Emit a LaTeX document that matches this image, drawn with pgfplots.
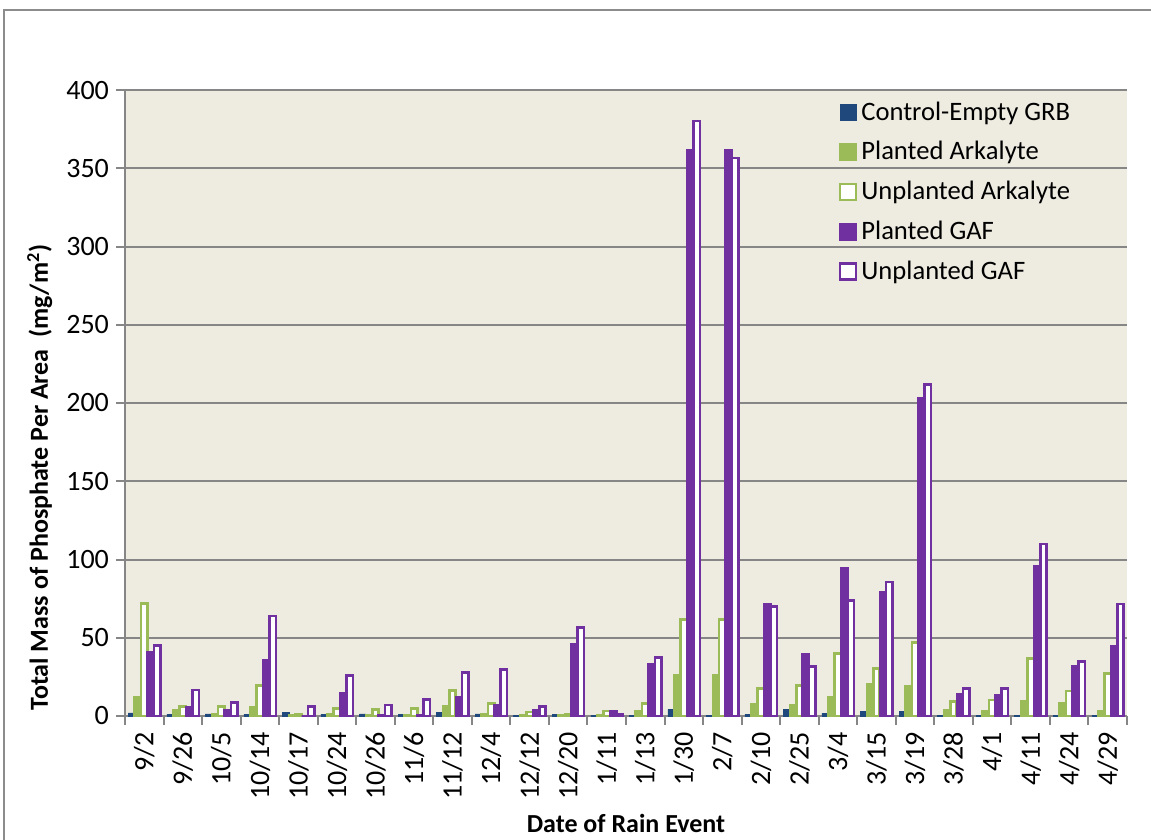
\documentclass[border=0pt]{standalone}
\usepackage{pgfplots}
\pgfplotsset{compat=1.18}
\usepackage{pgfplotstable}
\usepackage{fontspec}
\setmainfont{Carlito}
\definecolor{ctrl}{HTML}{1F497D}
\definecolor{pa}{HTML}{9BBB59}
\definecolor{pg}{HTML}{7030A0}
\definecolor{bg}{HTML}{EEECE1}
\definecolor{gridgray}{HTML}{868686}
\definecolor{framegray}{HTML}{8C8C8C}

\pgfplotstableread{
x C PA UA PG UG
0 2 12 72 41 45
1 1 3.4 6 5.5 16.6
2 1.3 1 6 3.4 8.5
3 1 5.5 19.4 35.4 64
4 2.4 0.3 1.2 0 6
5 1.2 1.3 4.9 14.5 25.8
6 1.3 0.3 4.3 0.3 7
7 1 0.3 4.9 0.3 10.6
8 2.3 6 16.2 11.7 27.7
9 1.3 1 8.1 7 29.8
10 0.3 0.8 2.5 3.4 6
11 1 0.3 0.8 46 56.4
12 0.3 0.5 3.2 2.8 1.3
13 0.3 2.8 8.1 33.2 37.3
14 4.3 26.2 61.8 361.7 380.2
15 0.5 26.2 61.8 361.5 356.5
16 1 7.7 17.7 71.4 69.9
17 4.3 7 19.4 39.6 31.5
18 1.7 11.9 40 94.4 73.7
19 2.8 20.2 30.5 79.4 85.6
20 2.8 19.2 47.1 203 212
21 0.3 3.8 9.2 13.8 17.7
22 0.6 2.8 10.2 13 17.7
23 0.3 9.2 36.8 95.8 110
24 0.6 8.5 16 32 34.7
25 0.3 2.8 27.2 44.3 71.6
}\data

\begin{document}
\begin{tikzpicture}[x=1pt,y=1pt]
\useasboundingbox (0,0) rectangle (575.5,-420);
\draw[framegray,line width=1pt] (2,-421) -- (2,-5) -- (576,-5);
\begin{axis}[
  at={(62.5pt,-358pt)}, anchor=south west,
  scale only axis, width=501pt, height=313pt,
  xmin=-0.5, xmax=25.5, ymin=0, ymax=400,
  ybar=0pt, bar width=0.166,
  axis lines=left,
  axis line style={-, draw=gridgray, line width=1pt},
  axis background/.style={fill=bg},
  ytick={0,50,...,400},
  ymajorgrids, grid style={gridgray, line width=1pt},
  xtick={-0.5,0.5,...,25.5},
  x tick label as interval,
  xticklabels={9/2,9/26,10/5,10/14,10/17,10/24,10/26,11/6,11/12,12/4,12/12,12/20,1/11,1/13,1/30,2/7,2/10,2/25,3/4,3/15,3/19,3/28,4/1,4/11,4/24,4/29},
  tick align=outside,
  major tick length=4.5pt,
  tick style={gridgray, line width=1pt},
  every tick label/.append style={font=\fontsize{14}{16}\selectfont},
  yticklabel style={font=\fontsize{14}{16}\selectfont},
  xticklabel style={font=\fontsize{14}{16}\selectfont, rotate=90, anchor=east},
  /pgf/number format/assume math mode=true,
  xlabel={\bfseries Date of Rain Event},
  ylabel={\bfseries Total Mass of Phosphate Per Area\ \ (mg/m\textsuperscript{2})},
  label style={font=\fontsize{13}{15}\selectfont},
  xlabel style={at={(axis description cs:0.5,-0.171)}, anchor=center},
  ylabel style={at={(axis description cs:-0.085,0.381)}, anchor=center},
  legend style={at={(rel axis cs:0.706,0.995)}, anchor=north west, draw=none, fill=none,
    font=\fontsize{13.3}{15}\selectfont, row sep=5.2pt},
  legend cell align=left,
  legend image code/.code={\draw[#1] (0pt,-4pt) rectangle (8pt,4pt);},
]
\addplot[fill=ctrl, draw=ctrl, line width=0.2pt] table[x=x,y=C]{\data};
\addlegendentry{Control-Empty GRB}
\addplot[fill=pa, draw=pa, line width=1.2pt] table[x=x,y=PA]{\data};
\addlegendentry{Planted Arkalyte}
\addplot[fill=white, draw=pa, line width=1.3pt] table[x=x,y=UA]{\data};
\addlegendentry{Unplanted Arkalyte}
\addplot[fill=pg, draw=pg, line width=1.2pt] table[x=x,y=PG]{\data};
\addlegendentry{Planted GAF}
\addplot[fill=white, draw=pg, line width=1.3pt] table[x=x,y=UG]{\data};
\addlegendentry{Unplanted GAF}
\end{axis}
\end{tikzpicture}
\end{document}
